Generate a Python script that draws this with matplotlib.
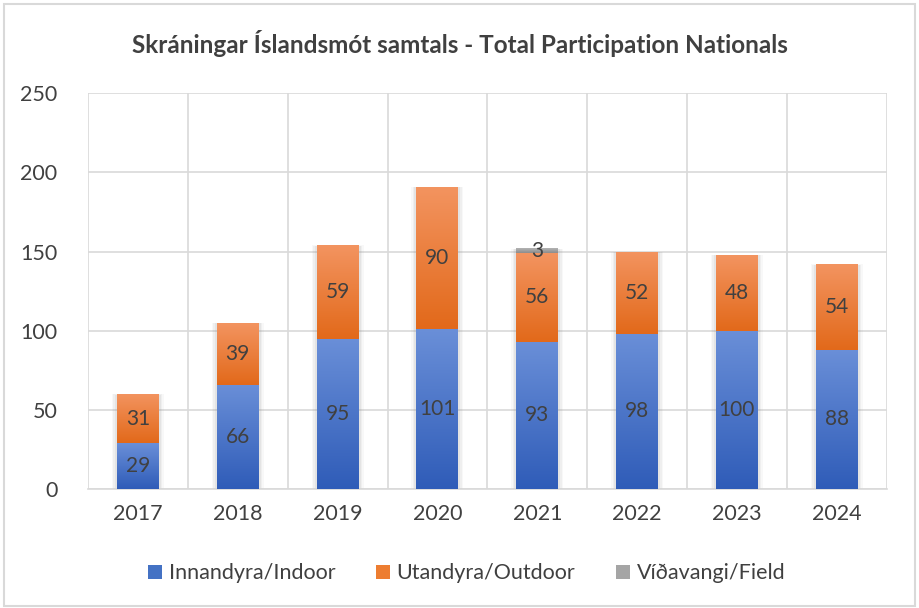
import numpy as np
import matplotlib.pyplot as plt
from matplotlib.patches import Rectangle
from matplotlib.colors import LinearSegmentedColormap

years = ["2017", "2018", "2019", "2020", "2021", "2022", "2023", "2024"]
indoor = [29, 66, 95, 101, 93, 98, 100, 88]
outdoor = [31, 39, 59, 90, 56, 52, 48, 54]
field = [0, 0, 0, 0, 3, 0, 0, 0]

series = [
    ("Innandyra/Indoor", indoor, "#4472c4", ("#2f5cb8", "#6a8fd8")),
    ("Utandyra/Outdoor", outdoor, "#ed7d31", ("#e2691a", "#f39460")),
    ("Víðavangi/Field", field, "#a5a5a5", ("#8c8c8c", "#b4b4b4")),
]

plt.rcParams['font.family'] = ['Lato', 'DejaVu Sans']

fig = plt.figure(figsize=(9.19, 6.08), dpi=100)
ax = fig.add_axes([0.0958, 0.1957, 0.869, 0.651])

x = np.arange(len(years))
width = 0.42
grad = np.linspace(0, 1, 256).reshape(-1, 1)

# soft shadow behind the stacks
totals = np.array(indoor) + np.array(outdoor) + np.array(field)
for k, a in [(0.10, 0.05), (0.07, 0.07), (0.04, 0.09)]:
    ax.bar(x, totals + k * 4, width + k, bottom=-0.5, color="#808080",
           alpha=a, linewidth=0, zorder=1)

bottom = np.zeros(len(years))
handles = []
for name, vals, col, (c0, c1) in series:
    vals = np.array(vals)
    bars = ax.bar(x, vals, width, bottom=bottom, color=col, linewidth=0,
                  zorder=2, label=name)
    cmap = LinearSegmentedColormap.from_list(name, [c0, c1])
    for b, v in zip(bars, vals):
        if v == 0:
            continue
        x0, y0 = b.get_x(), b.get_y()
        im = ax.imshow(grad, extent=[x0, x0 + b.get_width(), y0, y0 + b.get_height()],
                       origin="lower", cmap=cmap, aspect="auto", zorder=3)
        im.set_clip_path(b)
        ax.text(b.get_x() + b.get_width() / 2, y0 + v / 2, str(v), ha="center",
                va="center", fontsize=15, color="#404040", zorder=4)
    handles.append(bars)
    bottom = bottom + vals

ax.set_xlim(-0.5, len(years) - 0.5)
ax.set_ylim(0, 250)
ax.set_yticks(range(0, 251, 50))
ax.set_xticks(x)
ax.set_xticklabels(years)
ax.set_xticks(np.arange(-0.5, len(years)), minor=True)
ax.grid(True, axis="y", color="#d9d9d9", linewidth=1.2, zorder=0)
ax.grid(True, axis="x", which="minor", color="#d9d9d9", linewidth=1.2, zorder=0)
ax.set_axisbelow(True)
for s in ["top", "right", "left"]:
    ax.spines[s].set_visible(False)
ax.spines["bottom"].set_color("#d9d9d9")
ax.spines["bottom"].set_linewidth(1.2)
ax.tick_params(axis="both", which="both", length=0, labelsize=15.5, labelcolor="#404040")
ax.tick_params(axis="x", pad=11)
ax.tick_params(axis="y", pad=22)

fig.text(0.5, 0.928, "Skráningar Íslandsmót samtals - Total Participation Nationals",
         ha="center", va="center", fontsize=17.5, fontweight="bold", color="#404040")

leg = fig.legend(handles=handles, loc="center", bbox_to_anchor=(0.508, 0.057), ncol=3,
                 frameon=False, fontsize=15.5, handlelength=0.65, handleheight=0.65,
                 handletextpad=0.3, columnspacing=1.9, labelcolor="#404040")

fig.patches.append(Rectangle((0.004, 0.004), 0.992, 0.99, transform=fig.transFigure,
                             fill=False, edgecolor="#d9d9d9", linewidth=1.5))

fig.savefig("out.png", dpi=100)
